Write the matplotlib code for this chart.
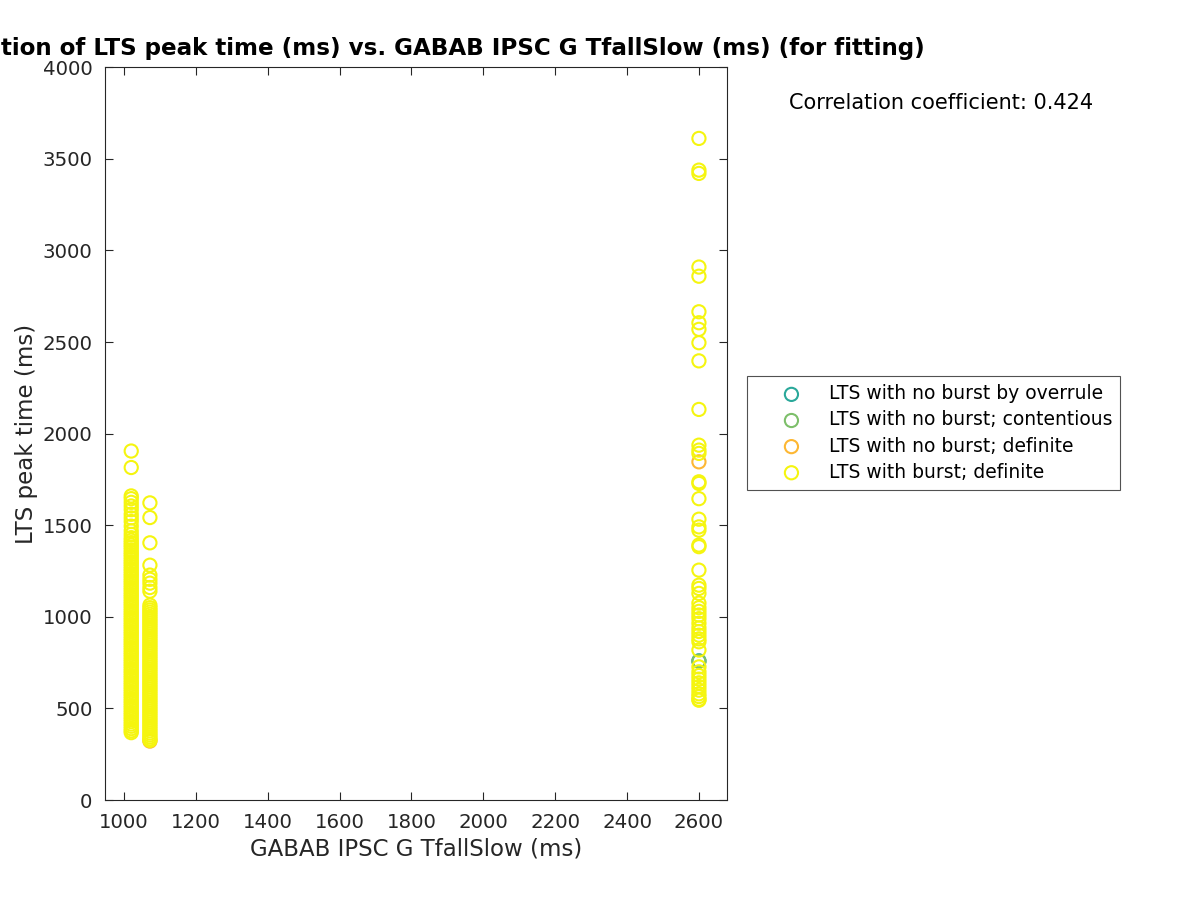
import matplotlib
matplotlib.use("Agg")
import matplotlib.pyplot as plt

# x positions of the three clusters (GABAB IPSC G TfallSlow, ms)
X_LEFT = 1020
X_MID = 1072
X_RIGHT = 2600

# LTS peak times (ms)
burst_left = [1905, 1815, 1660, 1645, 1625, 1605, 1585, 1560, 1540, 1520, 1495, 1470,
              1450, 1432, 1418, 1405, 1392, 1380, 1366, 1352, 1340, 1327, 1313, 1300,
              1288, 1275, 1262, 1250, 1236, 1224, 1211, 1198, 1186, 1173, 1160, 1148,
              1135, 1122, 1110, 1097, 1084, 1072, 1060, 1047, 1034, 1021, 1009, 996,
              984, 971, 958, 946, 933, 920, 908, 895, 882, 870, 857, 845, 832, 819,
              806, 794, 781, 768, 756, 743, 731, 718, 705, 693, 680, 668, 655, 642,
              630, 617, 605, 592, 579, 567, 554, 541, 529, 516, 504, 491, 478, 466,
              453, 441, 428, 415, 403, 390, 378, 368]
burst_mid = [1622, 1542, 1404, 1282, 1228, 1205, 1184, 1160, 1140, 1064, 1050, 1038,
             1026, 1014, 1002, 990, 978, 966, 954, 942, 930, 918, 906, 894, 882, 870,
             858, 846, 834, 822, 810, 798, 786, 774, 762, 750, 738, 726, 714, 702,
             690, 678, 666, 654, 642, 630, 618, 606, 594, 582, 570, 558, 546, 534,
             522, 510, 498, 486, 474, 462, 450, 438, 426, 414, 402, 390, 378, 366,
             355, 344, 334, 326]
burst_right = [3611, 3438, 3420, 2909, 2859, 2665, 2605, 2569, 2496, 2397, 2132, 1937,
               1910, 1892, 1737, 1728, 1645, 1533, 1491, 1473, 1392, 1383, 1255, 1173,
               1155, 1128, 1075, 1050, 1030, 1010, 990, 965, 940, 920, 900, 880, 864,
               819, 727, 700, 680, 660, 640, 620, 600, 580, 565, 550, 545]

overrule_x = [X_RIGHT]
overrule_y = [760]
contentious_x = [X_RIGHT]
contentious_y = [757]
nob_definite_x = [X_MID, X_RIGHT]
nob_definite_y = [322, 1846]

corr_coef = 0.424

burst_x = [X_LEFT] * len(burst_left) + [X_MID] * len(burst_mid) + [X_RIGHT] * len(burst_right)
burst_y = burst_left + burst_mid + burst_right

fig = plt.figure(figsize=(12, 9), dpi=100)
ax = fig.add_axes([0.0875, 0.111, 0.5183, 0.8144])

kw = dict(s=90, facecolors="none", linewidths=1.5)
ax.scatter(overrule_x, overrule_y, edgecolors="#2aa89a", label="LTS with no burst by overrule", **kw)
ax.scatter(contentious_x, contentious_y, edgecolors="#7dbf6a", label="LTS with no burst; contentious", **kw)
ax.scatter(nob_definite_x, nob_definite_y, edgecolors="#fdb733", label="LTS with no burst; definite", **kw)
ax.scatter(burst_x, burst_y, edgecolors="#f5f50f", label="LTS with burst; definite", **kw)

ax.set_xlim(947, 2678)
ax.set_ylim(0, 4000)
ax.set_xticks(range(1000, 2601, 200))
ax.set_yticks(range(0, 4001, 500))
ax.tick_params(direction="in", top=True, right=True, length=6, labelsize=14.2,
               colors="#262626", width=0.8, pad=9)
for s in ax.spines.values():
    s.set_color("#262626")
    s.set_linewidth(0.8)

ax.set_xlabel("GABAB IPSC G TfallSlow (ms)", fontsize=16.5, color="#262626", labelpad=4)
ax.set_ylabel("LTS peak time (ms)", fontsize=16.5, color="#262626", labelpad=3)
ax.set_title("Correlation of LTS peak time (ms) vs. GABAB IPSC G TfallSlow (ms) (for fitting)",
             fontsize=16.6, fontweight="bold", pad=9)

fig.text(0.784, 0.886, f"Correlation coefficient: {corr_coef:.3f}", fontsize=15,
         ha="center", va="center")

leg = ax.legend(loc="center left", bbox_to_anchor=(0.6225, 0.5189),
                bbox_transform=fig.transFigure, fontsize=13.5, frameon=True,
                fancybox=False, edgecolor="#262626", handlelength=3.9,
                handletextpad=0.05, borderpad=0.42, labelspacing=0.38,
                borderaxespad=0)
leg.get_frame().set_linewidth(0.8)

fig.savefig("out.png", dpi=100)
